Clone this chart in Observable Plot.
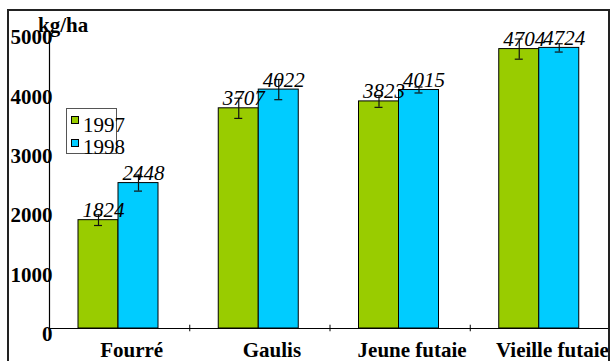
<!DOCTYPE html>
<html><head><meta charset="utf-8">
<script src="https://cdn.jsdelivr.net/npm/d3@7"></script>
<script src="https://cdn.jsdelivr.net/npm/@observablehq/plot@0.6"></script>
<style>
html,body{margin:0;padding:0;background:#fff;}
#wrap{position:relative;width:610px;height:361px;overflow:hidden;font-family:"Liberation Serif","Times New Roman",serif;}
#wrap svg{position:absolute;left:0;top:0;}
#frame{position:absolute;left:7px;top:9px;width:603px;height:400px;border:2px solid #222;box-sizing:border-box;pointer-events:none;}
#unit{position:absolute;left:38px;top:15px;font-size:21px;line-height:21px;font-weight:bold;white-space:nowrap;}
#legend{position:absolute;left:66px;top:108px;width:51px;height:46px;border:1px solid #555;box-sizing:border-box;}
.sw{position:absolute;width:8px;height:8px;border:1px solid #000;box-sizing:border-box;}
.lt{position:absolute;font-size:21px;line-height:21px;white-space:nowrap;}
</style>
</head><body>
<div id="wrap"></div>
<script>
const categories = ["Fourré", "Gaulis", "Jeune futaie", "Vieille futaie"];
const years = ["1997", "1998"];
const values1997 = [1824, 3707, 3823, 4704];
const values1998 = [2448, 4022, 4015, 4724];
const errors1997 = [90, 170, 100, 170];
const errors1998 = [135, 170, 50, 70];
const yTicks = [0, 1000, 2000, 3000, 4000, 5000];
const unitLabel = "kg/ha";
const colors = ["#99CC00", "#00CCFF"];

const rows97 = categories.map((c, i) => ({cat: c, year: years[0], value: values1997[i], err: errors1997[i]}));
const rows98 = categories.map((c, i) => ({cat: c, year: years[1], value: values1998[i], err: errors1998[i]}));

const W = 610, H = 361, mL = 49, mR = 0;
const bw = (W - mL - mR) / categories.length; // band width
const barW = 40, leftPad = 29;
const in97 = {l: leftPad, r: bw - leftPad - barW};
const in98 = {l: leftPad + barW, r: bw - leftPad - 2 * barW};
const c97 = leftPad + barW / 2 - bw / 2;
const c98 = leftPad + 1.5 * barW - bw / 2;
const cap = 4;

function errMarks(rows, center, color) {
  const capIn = {insetLeft: bw / 2 + center - cap, insetRight: bw / 2 - center - cap};
  return [
    Plot.ruleX(rows, {x: "cat", y1: d => d.value - d.err, y2: d => d.value + d.err, dx: center, stroke: "#111", strokeWidth: 1.2}),
    Plot.tickY(rows, {x: "cat", y: d => d.value - d.err, ...capIn, stroke: "#111", strokeWidth: 1.2}),
    Plot.tickY(rows, {x: "cat", y: d => d.value + d.err, ...capIn, stroke: "#111", strokeWidth: 1.2})
  ];
}

const chart = Plot.plot({
  width: W, height: H,
  marginLeft: mL, marginRight: mR, marginTop: 31, marginBottom: 33,
  x: {domain: categories, padding: 0, round: false, axis: null},
  y: {domain: [0, 5000], axis: null},
  style: {fontFamily: "'Liberation Serif','Times New Roman',serif", background: "transparent", color: "#000", overflow: "visible"},
  marks: [
    Plot.barY(rows97, {x: "cat", y: "value", fill: colors[0], stroke: "#000", strokeWidth: 1, insetLeft: in97.l, insetRight: in97.r}),
    Plot.barY(rows98, {x: "cat", y: "value", fill: colors[1], stroke: "#000", strokeWidth: 1, insetLeft: in98.l, insetRight: in98.r}),
    ...errMarks(rows97, c97),
    ...errMarks(rows98, c98),
    Plot.ruleY([0], {stroke: "#000", strokeWidth: 1.2}),
    Plot.ruleX([categories[0]], {x: d => d, y1: 0, y2: 5000, dx: -bw / 2, stroke: "#000", strokeWidth: 1.2}),
    Plot.ruleX(categories, {x: d => d, y1: -55, y2: 55, dx: -bw / 2, stroke: "#000", strokeWidth: 1}),
    Plot.text(rows97, {x: "cat", y: "value", text: d => String(d.value), dx: c97 + 5, dy: -3, lineAnchor: "bottom", fontStyle: "italic", fontSize: 21, fill: "#000"}),
    Plot.text(rows98, {x: "cat", y: "value", text: d => String(d.value), dx: c98 + 5, dy: -3, lineAnchor: "bottom", fontStyle: "italic", fontSize: 21, fill: "#000"}),
    Plot.axisY(yTicks, {ticks: yTicks, tickSize: 0, tickPadding: -3, dy: 6, fontSize: 21, fontWeight: "bold", tickFormat: d => String(d), label: null}),
    Plot.axisX({tickSize: 0, tickPadding: 14, dx: 12, fontSize: 21, fontWeight: "bold", label: null})
  ]
});

const wrap = document.getElementById("wrap");
wrap.appendChild(chart);

const frame = document.createElement("div"); frame.id = "frame"; wrap.appendChild(frame);
const unit = document.createElement("div"); unit.id = "unit"; unit.textContent = unitLabel; wrap.appendChild(unit);

const legend = document.createElement("div"); legend.id = "legend"; wrap.appendChild(legend);
years.forEach((y, i) => {
  const sw = document.createElement("div"); sw.className = "sw";
  sw.style.left = "4px"; sw.style.top = (7 + i * 23) + "px"; sw.style.background = colors[i];
  legend.appendChild(sw);
  const t = document.createElement("div"); t.className = "lt"; t.textContent = y;
  t.style.left = "16px"; t.style.top = (5.5 + i * 22) + "px";
  legend.appendChild(t);
});
</script>
</body></html>
